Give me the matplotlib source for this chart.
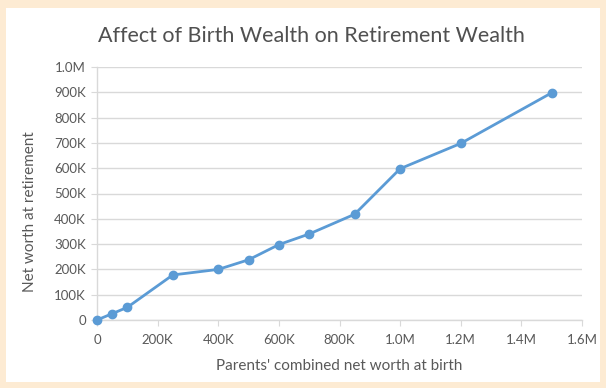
import matplotlib
matplotlib.use('Agg')
import matplotlib.pyplot as plt
from matplotlib.patches import Rectangle
from matplotlib.ticker import FuncFormatter

plt.rcParams['font.family'] = ['Lato', 'DejaVu Sans']

# parents' net worth at birth vs net worth at retirement
birth_wealth = [0, 50_000, 100_000, 250_000, 400_000, 500_000, 600_000,
                700_000, 850_000, 1_000_000, 1_200_000, 1_500_000]
retirement_wealth = [0, 25_000, 50_000, 178_000, 200_000, 238_000, 298_000,
                     340_000, 418_000, 598_000, 698_000, 898_000]

x_ticks = [0, 200_000, 400_000, 600_000, 800_000, 1_000_000, 1_200_000, 1_400_000, 1_600_000]
y_ticks = [i * 100_000 for i in range(11)]


def money(v, pos=None):
    if v == 0:
        return '0'
    if v >= 1_000_000:
        return f'{v / 1_000_000:.1f}M'
    return f'{v / 1000:.0f}K'


text_color = '#595959'
grid_color = '#d9d9d9'
line_color = '#5b9bd5'

fig = plt.figure(figsize=(6.06, 3.88), dpi=100)
fig.patch.set_facecolor('#fdebd3')
fig.patches.append(Rectangle((6 / 606, 1 - 382 / 388), 594 / 606, 374 / 388,
                             transform=fig.transFigure, facecolor='white',
                             edgecolor='none', zorder=-5))

ax = fig.add_axes([97 / 606, 1 - 320 / 388, 485 / 606, 253 / 388])
ax.set_facecolor('white')

ax.plot(birth_wealth, retirement_wealth, '-o', color=line_color, lw=2,
        markersize=6, clip_on=False, zorder=3)

ax.set_xlim(0, 1_600_000)
ax.set_ylim(0, 1_000_000)
ax.set_xticks(x_ticks)
ax.set_yticks(y_ticks)
ax.xaxis.set_major_formatter(FuncFormatter(money))
ax.yaxis.set_major_formatter(FuncFormatter(money))

ax.grid(axis='y', color=grid_color, lw=1)
ax.set_axisbelow(True)
for side in ['top', 'right']:
    ax.spines[side].set_visible(False)
for side in ['left', 'bottom']:
    ax.spines[side].set_color(grid_color)
    ax.spines[side].set_linewidth(1)

ax.tick_params(colors=text_color, labelsize=9.5, length=4, color=grid_color)
ax.tick_params(axis='x', pad=6)
ax.tick_params(axis='y', pad=4)

ax.set_xlabel("Parents' combined net worth at birth", color=text_color,
              fontsize=11)
ax.set_ylabel('Net worth at retirement', color=text_color, fontsize=11)
# label spots as in the original (y label sits a bit low)
ax.xaxis.set_label_coords(0.5, -0.155)
ax.yaxis.set_label_coords(-0.138, 0.427)
ax.yaxis.label.set_va('center')

fig.text(311 / 606, 1 - 36 / 388, 'Affect of Birth Wealth on Retirement Wealth',
         ha='center', va='center', fontsize=15.5, color='#505050')

fig.savefig('out.png', dpi=100, facecolor=fig.get_facecolor())
